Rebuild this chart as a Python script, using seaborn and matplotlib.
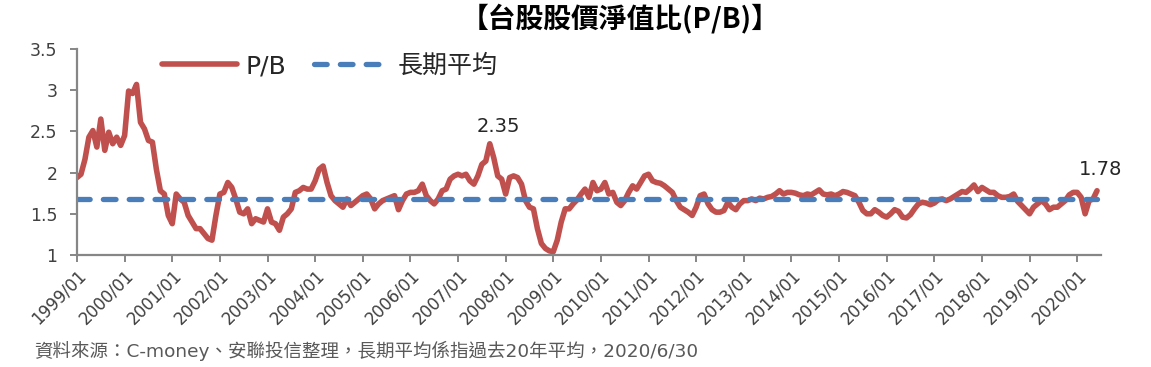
import matplotlib
matplotlib.use("Agg")
import matplotlib.pyplot as plt
import seaborn as sns
import pandas as pd
import numpy as np

# ---- data (monthly P/B, 1999/01 - 2020/06) ----
pb_1999 = [1.94, 1.98, 2.16, 2.43, 2.51, 2.31, 2.65, 2.27, 2.49, 2.35, 2.43, 2.33]
pb_2000 = [2.45, 2.99, 2.96, 3.07, 2.61, 2.53, 2.39, 2.37, 2.04, 1.78, 1.74, 1.48]
pb_2001 = [1.38, 1.74, 1.68, 1.64, 1.48, 1.40, 1.32, 1.32, 1.26, 1.20, 1.18, 1.48]
pb_2002 = [1.74, 1.76, 1.88, 1.82, 1.68, 1.52, 1.50, 1.56, 1.38, 1.44, 1.42, 1.40]
pb_2003 = [1.56, 1.40, 1.38, 1.30, 1.46, 1.50, 1.56, 1.76, 1.78, 1.82, 1.80, 1.80]
pb_2004 = [1.90, 2.04, 2.08, 1.88, 1.72, 1.66, 1.62, 1.58, 1.68, 1.60, 1.64, 1.68]
pb_2005 = [1.72, 1.74, 1.68, 1.56, 1.62, 1.66, 1.68, 1.70, 1.72, 1.55, 1.66, 1.74]
pb_2006 = [1.76, 1.76, 1.78, 1.86, 1.72, 1.66, 1.62, 1.68, 1.78, 1.80, 1.92, 1.96]
pb_2007 = [1.98, 1.96, 1.98, 1.90, 1.86, 1.96, 2.10, 2.14, 2.35, 2.18, 1.96, 1.92]
pb_2008 = [1.74, 1.94, 1.96, 1.94, 1.86, 1.66, 1.58, 1.56, 1.32, 1.14, 1.08, 1.05]
pb_2009 = [1.04, 1.18, 1.40, 1.56, 1.56, 1.62, 1.67, 1.74, 1.80, 1.70, 1.88, 1.78]
pb_2010 = [1.80, 1.88, 1.74, 1.76, 1.64, 1.60, 1.66, 1.76, 1.84, 1.80, 1.88, 1.96]
pb_2011 = [1.98, 1.90, 1.88, 1.87, 1.84, 1.80, 1.76, 1.66, 1.58, 1.55, 1.52, 1.48]
pb_2012 = [1.58, 1.72, 1.74, 1.62, 1.55, 1.52, 1.52, 1.54, 1.64, 1.58, 1.55, 1.62]
pb_2013 = [1.66, 1.66, 1.68, 1.66, 1.69, 1.68, 1.70, 1.71, 1.74, 1.78, 1.74, 1.76]
pb_2014 = [1.76, 1.75, 1.73, 1.72, 1.74, 1.73, 1.76, 1.79, 1.74, 1.73, 1.74, 1.72]
pb_2015 = [1.74, 1.77, 1.76, 1.74, 1.72, 1.64, 1.54, 1.50, 1.50, 1.55, 1.52, 1.48]
pb_2016 = [1.46, 1.50, 1.55, 1.53, 1.46, 1.45, 1.49, 1.56, 1.62, 1.64, 1.63, 1.61]
pb_2017 = [1.63, 1.67, 1.68, 1.66, 1.68, 1.71, 1.74, 1.77, 1.76, 1.80, 1.85, 1.77]
pb_2018 = [1.82, 1.79, 1.76, 1.76, 1.72, 1.70, 1.70, 1.71, 1.74, 1.65, 1.60, 1.55]
pb_2019 = [1.50, 1.58, 1.62, 1.66, 1.62, 1.55, 1.58, 1.58, 1.62, 1.66, 1.73, 1.76]
pb_2020 = [1.76, 1.70, 1.50, 1.66, 1.68, 1.78]

long_term_avg = 1.68
peak_label = "2.35"
last_label = "1.78"
tick_labels = [f"{y}/01" for y in range(1999, 2021)]

pb = (pb_1999 + pb_2000 + pb_2001 + pb_2002 + pb_2003 + pb_2004 + pb_2005 +
      pb_2006 + pb_2007 + pb_2008 + pb_2009 + pb_2010 + pb_2011 + pb_2012 +
      pb_2013 + pb_2014 + pb_2015 + pb_2016 + pb_2017 + pb_2018 + pb_2019 + pb_2020)

df = pd.DataFrame({"idx": np.arange(len(pb)), "pb": pb})
df["avg"] = long_term_avg

# ---- style ----
sns.set_theme(style="white")
plt.rcParams["font.family"] = ["DejaVu Sans", "Noto Sans CJK TC"]

W, H = 1151, 367
fig = plt.figure(figsize=(W / 100, H / 100), dpi=100)
ax = fig.add_axes([77 / W, 1 - 255 / H, 1024 / W, 206 / H])

red = "#C0504D"
blue = "#4A7EBB"
gray = "#868686"

sns.lineplot(data=df, x="idx", y="pb", ax=ax, color=red, linewidth=4.0,
             label="P/B", solid_joinstyle="round", solid_capstyle="round")
sns.lineplot(data=df, x="idx", y="avg", ax=ax, color=blue, linewidth=3.8,
             label="長期平均")
avg_line = ax.lines[-1]
avg_line.set_linestyle((0, (2.4, 2.5)))
avg_line.set_dash_capstyle("round")
if ax.get_legend() is not None:
    ax.get_legend().remove()

ax.set_xlim(0, 258)
ax.set_ylim(1, 3.5)
ax.set_yticks([1, 1.5, 2, 2.5, 3, 3.5])
ax.set_yticklabels(["1", "1.5", "2", "2.5", "3", "3.5"])
ax.set_xticks(np.arange(0, len(pb), 12))
ax.set_xticklabels(tick_labels, rotation=45, ha="right", rotation_mode="anchor")
ax.set_xlabel("")
ax.set_ylabel("")

for s in ["top", "right"]:
    ax.spines[s].set_visible(False)
for s in ["left", "bottom"]:
    ax.spines[s].set_color(gray)
    ax.spines[s].set_linewidth(1.6)

ax.tick_params(axis="x", length=5, width=1.4, color=gray, direction="out",
               labelsize=12, labelcolor="#404040", pad=3, bottom=True)
ax.tick_params(axis="y", length=5, width=1.4, color=gray, direction="out",
               labelsize=12.5, labelcolor="#404040", pad=9, left=True)

# annotations
peak_i = int(np.argmax(pb[60:130])) + 60
ax.annotate(peak_label, xy=(peak_i, pb[peak_i]), xytext=(9, 8),
            textcoords="offset pixels", ha="center", va="bottom",
            fontsize=14, color="#262626")
last_i = len(pb) - 1
ax.annotate(last_label, xy=(last_i, pb[last_i]), xytext=(4, 12),
            textcoords="offset pixels", ha="center", va="bottom",
            fontsize=14, color="#262626")

# legend
handles, labels = ax.get_legend_handles_labels()
fig.legend(handles, labels, loc="center", bbox_to_anchor=(330 / W, 1 - 66 / H),
           bbox_transform=fig.transFigure, ncol=2, frameon=False,
           fontsize=18, handlelength=3.0, handletextpad=0.35,
           columnspacing=1.1, borderpad=0, labelcolor="#262626")

# title and footnote
fig.text(620 / W, 1 - 18 / H, "【台股股價淨值比(P/B)】", ha="center", va="center",
         fontsize=20, fontweight="bold", color="#000000",
         family=["Noto Sans CJK TC", "DejaVu Sans"])
fig.text(34 / W, 1 - 351 / H,
         "資料來源：C-money、安聯投信整理，長期平均係指過去20年平均，2020/6/30",
         ha="left", va="center", fontsize=13.3, color="#595959")

fig.savefig("out.png", dpi=100)
